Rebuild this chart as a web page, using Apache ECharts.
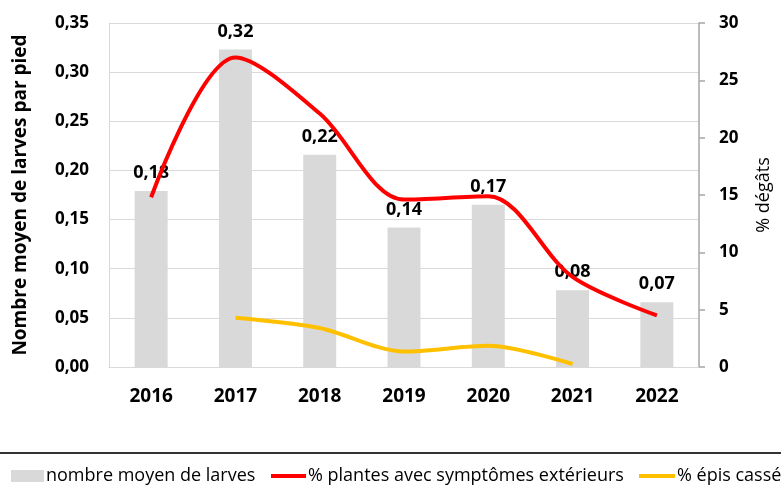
<!DOCTYPE html>
<html style="height: 100%">
<head>
  <meta charset="UTF-8">
  <title>Larves</title>
  <script src="https://cdn.jsdelivr.net/npm/echarts@6/dist/echarts.min.js"></script>
</head>
<body style="height: 100%; margin: 0; background: #fff">
<div id="main" style="width: 781px; height: 491px"></div>

<script>
  // data
  const years = ['2016', '2017', '2018', '2019', '2020', '2021', '2022'];
  const larves = [0.18, 0.32, 0.22, 0.14, 0.17, 0.08, 0.07];
  const larvesBars = [0.179, 0.323, 0.216, 0.142, 0.165, 0.078, 0.066];
  const symptomes = [14.8, 27.0, 22.1, 14.6, 14.9, 7.85, 4.5];
  const epis = [null, 4.3, 3.4, 1.35, 1.85, 0.26, null];

  const names = ['nombre moyen de larves', '% plantes avec symptômes extérieurs', '% épis cassés'];
  const font = 'Open Sans';

  const comma = (v, d) => v.toFixed(d).replace('.', ',');

  let legendText = { fontFamily: font, fontSize: 18, color: '#000', padding: [0, 0, 0, -3] };

  let option = {
    animation: false,
    textStyle: { fontFamily: font, color: '#000' },
    grid: { left: 109, right: 79, top: 23, bottom: 124 },
    legend: [
      {
        data: [names[0]], left: 6, top: 462, icon: 'rect',
        itemWidth: 33, itemHeight: 12,
        textStyle: legendText
      },
      {
        data: [names[1]], left: 266, top: 462, icon: 'rect',
        itemWidth: 35, itemHeight: 4,
        textStyle: legendText
      },
      {
        data: [names[2]], left: 634, top: 462, icon: 'rect',
        itemWidth: 36, itemHeight: 4,
        textStyle: legendText
      }
    ],
    graphic: [{
      type: 'line',
      shape: { x1: 0, y1: 453, x2: 781, y2: 453 },
      style: { stroke: '#333', lineWidth: 2 }
    }],
    xAxis: {
      type: 'category',
      data: years,
      axisLine: { lineStyle: { color: '#D9D9D9', width: 1 } },
      axisTick: { show: false },
      axisLabel: { fontFamily: font, fontSize: 19, fontWeight: 'bold', color: '#000', margin: 20 }
    },
    yAxis: [
      {
        type: 'value',
        min: 0, max: 0.35, interval: 0.05,
        name: 'Nombre moyen de larves par pied',
        nameLocation: 'middle',
        nameGap: 79,
        nameTextStyle: { fontFamily: font, fontSize: 19, fontWeight: 'bold', color: '#000' },
        axisLine: { show: true, lineStyle: { color: '#D9D9D9', width: 1 } },
        axisTick: { show: false },
        splitLine: { lineStyle: { color: '#D9D9D9', width: 1 } },
        axisLabel: {
          fontFamily: font, fontSize: 17, fontWeight: 'bold', color: '#000', margin: 20,
          formatter: v => comma(v, 2)
        }
      },
      {
        type: 'value',
        min: 0, max: 30, interval: 5,
        position: 'right',
        name: '% dégâts',
        nameLocation: 'middle',
        nameGap: 56,
        nameTextStyle: { fontFamily: font, fontSize: 18, color: '#000' },
        axisLine: { show: true, lineStyle: { color: '#A6A6A6', width: 1.5 } },
        axisTick: { show: true, length: 6, lineStyle: { color: '#A6A6A6', width: 1.5 } },
        splitLine: { show: false },
        axisLabel: { fontFamily: font, fontSize: 17, fontWeight: 'bold', color: '#000', margin: 20 }
      }
    ],
    series: [
      {
        name: names[0],
        type: 'bar',
        data: larvesBars,
        barWidth: 33,
        itemStyle: { color: '#D9D9D9' },
        label: {
          show: true, position: 'top', distance: 9,
          fontFamily: font, fontSize: 18, fontWeight: 'bold', color: '#000',
          formatter: p => comma(larves[p.dataIndex], 2)
        }
      },
      {
        name: names[1],
        type: 'line',
        yAxisIndex: 1,
        data: symptomes,
        smooth: 0.32,
        showSymbol: false,
        itemStyle: { color: '#FF0000' },
        lineStyle: { color: '#FF0000', width: 4 },
        z: 3
      },
      {
        name: names[2],
        type: 'line',
        yAxisIndex: 1,
        data: epis,
        smooth: 0.3,
        showSymbol: false,
        itemStyle: { color: '#FFC000' },
        lineStyle: { color: '#FFC000', width: 4 },
        z: 3
      }
    ]
  };

  let chart = echarts.init(document.getElementById('main'));
  chart.setOption(option);
</script>
</body>
</html>
